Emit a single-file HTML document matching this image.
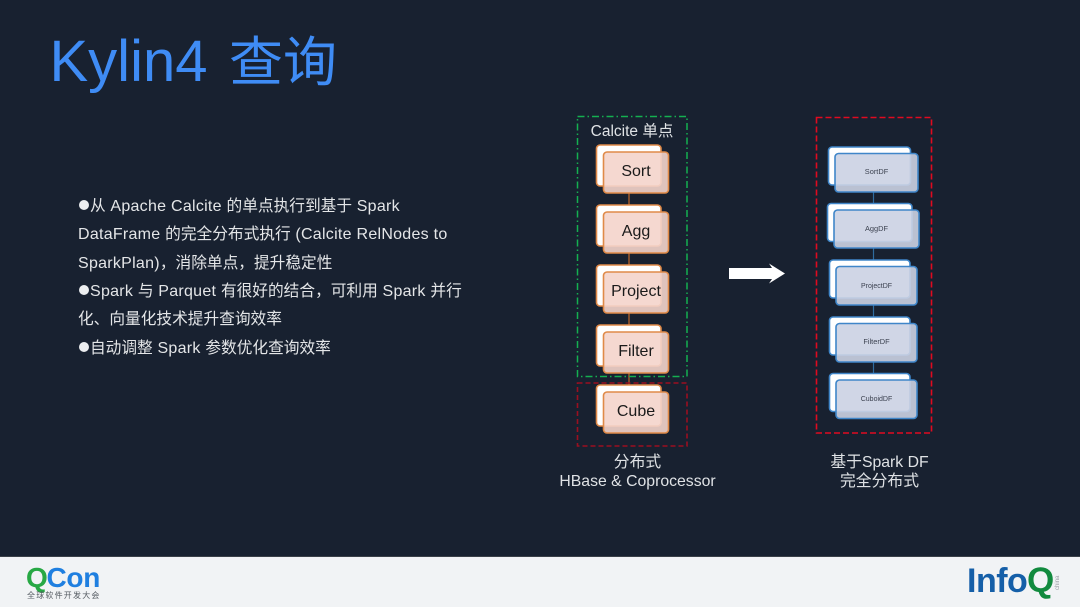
<!DOCTYPE html>
<html lang="zh">
<head>
<meta charset="utf-8">
<style>
html,body{margin:0;padding:0;width:1080px;height:607px;overflow:hidden;background:#182130}
svg{display:block;position:absolute;left:0;top:0}
text{font-family:"Liberation Sans","Noto Sans CJK SC",sans-serif}
.b{font-size:16px;fill:#e4e6e8;letter-spacing:.27px}
.b tspan{font-size:15.7px;letter-spacing:0}
.b tspan.p{font-family:"Noto Sans CJK TC",sans-serif}
.n{font-size:16px;fill:#1a1a1a;text-anchor:middle}
.d{font-size:7.4px;fill:#3c4250;text-anchor:middle}
.l{font-size:15.8px;fill:#dfe2e5;text-anchor:middle}
.fo{fill:rgb(244,212,203);fill-opacity:.905}
.fb{fill:rgb(203,210,227);fill-opacity:.905}
</style>
</head>
<body>
<svg width="1080" height="607" viewBox="0 0 1080 607" xmlns="http://www.w3.org/2000/svg">
<rect width="1080" height="607" fill="#182130"/>
<rect y="556" width="1080" height="1" fill="#3a4048"/>
<rect y="557" width="1080" height="50" fill="#f1f3f5"/>

<text x="49.500" y="81" font-size="58" fill="#3f8cf5">Kylin4</text>
<text x="229" y="81" font-size="54" fill="#3f8cf5">查询</text>

<g fill="#eceef0">
<circle cx="84" cy="205" r="5"/>
<circle cx="84" cy="290" r="5"/>
<circle cx="84" cy="347" r="5"/>
</g>
<text class="b" x="90" y="211"><tspan>从</tspan> Apache Calcite <tspan>的单点执行到基于</tspan> Spark</text>
<text class="b" x="78" y="239">DataFrame <tspan>的完全分布式执行</tspan> (Calcite RelNodes to</text>
<text class="b" x="78" y="268">SparkPlan)<tspan class="p">，</tspan><tspan>消除单点</tspan><tspan class="p">，</tspan><tspan>提升稳定性</tspan></text>
<text class="b" x="90" y="296">Spark <tspan>与</tspan> Parquet <tspan>有很好的结合</tspan><tspan class="p">，</tspan><tspan>可利用</tspan> Spark <tspan>并行</tspan></text>
<text class="b" x="78" y="324"><tspan>化、向量化技术提升查询效率</tspan></text>
<text class="b" x="90" y="353"><tspan>自动调整</tspan> Spark <tspan>参数优化查询效率</tspan></text>

<!-- left connectors -->
<g stroke="#b5622a" stroke-width="1.3">
<line x1="629" y1="193" x2="629" y2="205"/>
<line x1="629" y1="253" x2="629" y2="265"/>
<line x1="629" y1="313" x2="629" y2="325"/>
<line x1="629" y1="373" x2="629" y2="385"/>
</g>
<rect x="577.5" y="116.500" width="109.500" height="260" fill="none" stroke="#14b050" stroke-width="1.500" stroke-dasharray="7 3 1.500 3"/>
<rect x="577.5" y="383" width="109.500" height="63" fill="none" stroke="#9a0f20" stroke-width="1.600" stroke-dasharray="5 3"/>
<text x="632" y="136" font-size="15.500" fill="#dfe2e5" text-anchor="middle">Calcite 单点</text>

<!-- left nodes -->
<g stroke="#e08a48" stroke-width="1.600">
<rect x="596.500" y="145" width="64.500" height="41" rx="3.500" fill="#fff"/>
<rect x="603.500" y="152" width="65" height="41" rx="3.500" class="fo"/>
<rect x="596.500" y="205" width="64.500" height="41" rx="3.500" fill="#fff"/>
<rect x="603.500" y="212" width="65" height="41" rx="3.500" class="fo"/>
<rect x="596.500" y="265" width="64.500" height="41" rx="3.500" fill="#fff"/>
<rect x="603.500" y="272" width="65" height="41" rx="3.500" class="fo"/>
<rect x="596.500" y="325" width="64.500" height="41" rx="3.500" fill="#fff"/>
<rect x="603.500" y="332" width="65" height="41" rx="3.500" class="fo"/>
<rect x="596.500" y="385" width="64.500" height="41" rx="3.500" fill="#fff"/>
<rect x="603.500" y="392" width="65" height="41" rx="3.500" class="fo"/>
</g>
<text class="n" x="636" y="176">Sort</text>
<text class="n" x="636" y="236">Agg</text>
<text class="n" x="636" y="296">Project</text>
<text class="n" x="636" y="356">Filter</text>
<text class="n" x="636" y="416">Cube</text>

<text class="l" x="637.500" y="467">分布式</text>
<text class="l" x="637.500" y="486">HBase &amp; Coprocessor</text>

<!-- arrow -->
<polygon points="729,268 772,268 769,263.500 785,273.500 769,283.500 772,279 729,279" fill="#fff"/>

<!-- right -->
<rect x="816.500" y="117.500" width="115" height="315.500" fill="none" stroke="#e00a20" stroke-width="1.600" stroke-dasharray="6 3"/>
<g stroke="#2f6c9f" stroke-width="1.200">
<line x1="873.500" y1="192" x2="873.500" y2="210"/>
<line x1="873.500" y1="248" x2="873.500" y2="266"/>
<line x1="873.500" y1="305" x2="873.500" y2="323"/>
<line x1="873.500" y1="362" x2="873.500" y2="380"/>
</g>
<g stroke="#3f86c9" stroke-width="1.600">
<rect x="828.500" y="147" width="82" height="38" rx="3.500" fill="#fff"/>
<rect x="835" y="153.500" width="83" height="38.500" rx="3.500" class="fb"/>
<rect x="827.500" y="203.500" width="84.500" height="38" rx="3.500" fill="#fff"/>
<rect x="834" y="210" width="85" height="38" rx="3.500" class="fb"/>
<rect x="829.500" y="260" width="80.500" height="38" rx="3.500" fill="#fff"/>
<rect x="836" y="266.500" width="81" height="38.500" rx="3.500" class="fb"/>
<rect x="829.500" y="317" width="80.500" height="38" rx="3.500" fill="#fff"/>
<rect x="836" y="323.500" width="81" height="38.500" rx="3.500" class="fb"/>
<rect x="829.500" y="373.500" width="80.500" height="38" rx="3.500" fill="#fff"/>
<rect x="836" y="380" width="81" height="38.500" rx="3.500" class="fb"/>
</g>
<text class="d" x="876.500" y="174">SortDF</text>
<text class="d" x="876.500" y="231">AggDF</text>
<text class="d" x="876.500" y="288" style="font-size:7px">ProjectDF</text>
<text class="d" x="876.500" y="344">FilterDF</text>
<text class="d" x="876.500" y="401" style="font-size:7px">CuboidDF</text>

<text class="l" x="879.500" y="467">基于Spark DF</text>
<text class="l" x="879.500" y="486">完全分布式</text>

<!-- footer logos -->
<text x="26" y="587" font-size="28" font-weight="bold" fill="#27a844" style="letter-spacing:-.3px">Q</text>
<text x="46.500" y="587" font-size="28" font-weight="bold" fill="#1f7fe0" style="letter-spacing:-.3px">Con</text>
<text x="27" y="598" font-size="8" fill="#555b62" style="letter-spacing:1.200px">全球软件开发大会</text>
<text x="967" y="592" font-size="34" font-weight="bold" fill="#155fa8" style="letter-spacing:-.5px">Info</text>
<text x="1027" y="592" font-size="35" font-weight="bold" fill="#118a3e">Q</text>
<text transform="translate(1059,590) rotate(-90)" font-size="6" fill="#9a9fa5">china</text>
</svg>
</body>
</html>
